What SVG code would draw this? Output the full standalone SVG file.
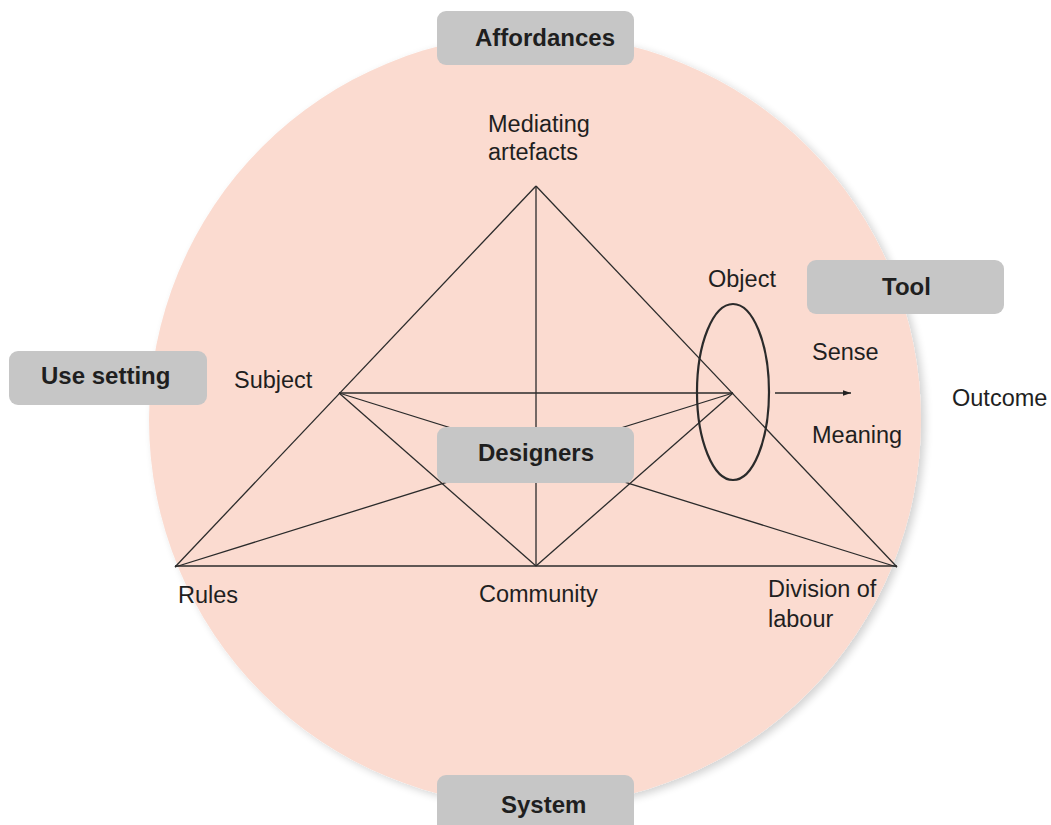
<svg xmlns="http://www.w3.org/2000/svg" width="1051" height="825" viewBox="0 0 1051 825">
  <defs>
    <filter id="soft" x="-10%" y="-10%" width="125%" height="125%">
      <feGaussianBlur in="SourceAlpha" stdDeviation="4"/>
      <feOffset dx="4" dy="3" result="b"/>
      <feComponentTransfer><feFuncA type="linear" slope="0.18"/></feComponentTransfer>
      <feMerge><feMergeNode/><feMergeNode in="SourceGraphic"/></feMerge>
    </filter>
    <marker id="arrow" viewBox="0 0 10 10" refX="10" refY="5" markerWidth="8" markerHeight="8" orient="auto" markerUnits="userSpaceOnUse">
      <path d="M0,1.5 L10,5 L0,8.5 Z" fill="#222"/>
    </marker>
    <style>
      .lbl { font-family: "Liberation Sans", Arial, sans-serif; font-size: 23.5px; fill: #1f1f1f; }
      .box { fill: #c6c6c6; }
      .boxlbl { font-family: "Liberation Sans", Arial, sans-serif; font-size: 24px; font-weight: bold; fill: #1f1f1f; }
      .edge { stroke: #2b2b2b; stroke-width: 1.3; fill: none; }
    </style>
  </defs>

  <rect width="1051" height="825" fill="#ffffff"/>

  <!-- activity system backdrop -->
  <circle id="system-circle" cx="535" cy="420" r="386" fill="#fbdbd0" filter="url(#soft)"/>

  <!-- connectors of the activity triangle -->
  <g id="connectors" class="edge">
    <line x1="536" y1="186" x2="175" y2="567"/>
    <line x1="536" y1="186" x2="897" y2="567"/>
    <line x1="536" y1="186" x2="536" y2="566"/>
    <line x1="175" y1="566" x2="897" y2="566"/>
    <line x1="339" y1="393" x2="733" y2="393"/>
    <line x1="339" y1="393" x2="536" y2="566"/>
    <line x1="733" y1="393" x2="536" y2="566"/>
    <line x1="339" y1="393" x2="897" y2="567"/>
    <line x1="175" y1="567" x2="733" y2="393"/>
    <ellipse cx="733" cy="392" rx="36" ry="88" stroke-width="2.2"/>
    <line x1="775" y1="393" x2="851" y2="393" marker-end="url(#arrow)"/>
  </g>

  <!-- tag boxes -->
  <g id="affordances">
    <rect class="box" x="437" y="11" width="197" height="54" rx="9"/>
    <text class="boxlbl" x="475" y="46">Affordances</text>
  </g>
  <g id="tool">
    <rect class="box" x="807" y="260" width="197" height="54" rx="9"/>
    <text class="boxlbl" x="882" y="295">Tool</text>
  </g>
  <g id="use-setting">
    <rect class="box" x="9" y="351" width="198" height="54" rx="9"/>
    <text class="boxlbl" x="41" y="384">Use setting</text>
  </g>
  <g id="designers">
    <rect class="box" x="437" y="427" width="197" height="56" rx="9"/>
    <text class="boxlbl" x="478" y="461">Designers</text>
  </g>
  <g id="system">
    <rect class="box" x="437" y="775" width="197" height="60" rx="9"/>
    <text class="boxlbl" x="501" y="813">System</text>
  </g>

  <!-- triangle vertex labels -->
  <g id="mediating-artefacts">
    <text class="lbl" x="488" y="132">Mediating</text>
    <text class="lbl" x="488" y="160">artefacts</text>
  </g>
  <g id="subject"><text class="lbl" x="234" y="388">Subject</text></g>
  <g id="object"><text class="lbl" x="708" y="287">Object</text></g>
  <g id="sense"><text class="lbl" x="812" y="360">Sense</text></g>
  <g id="meaning"><text class="lbl" x="812" y="443">Meaning</text></g>
  <g id="outcome"><text class="lbl" x="952" y="406">Outcome</text></g>
  <g id="rules"><text class="lbl" x="178" y="603">Rules</text></g>
  <g id="community"><text class="lbl" x="479" y="602">Community</text></g>
  <g id="division-of-labour">
    <text class="lbl" x="768" y="597">Division of</text>
    <text class="lbl" x="768" y="627">labour</text>
  </g>
</svg>
